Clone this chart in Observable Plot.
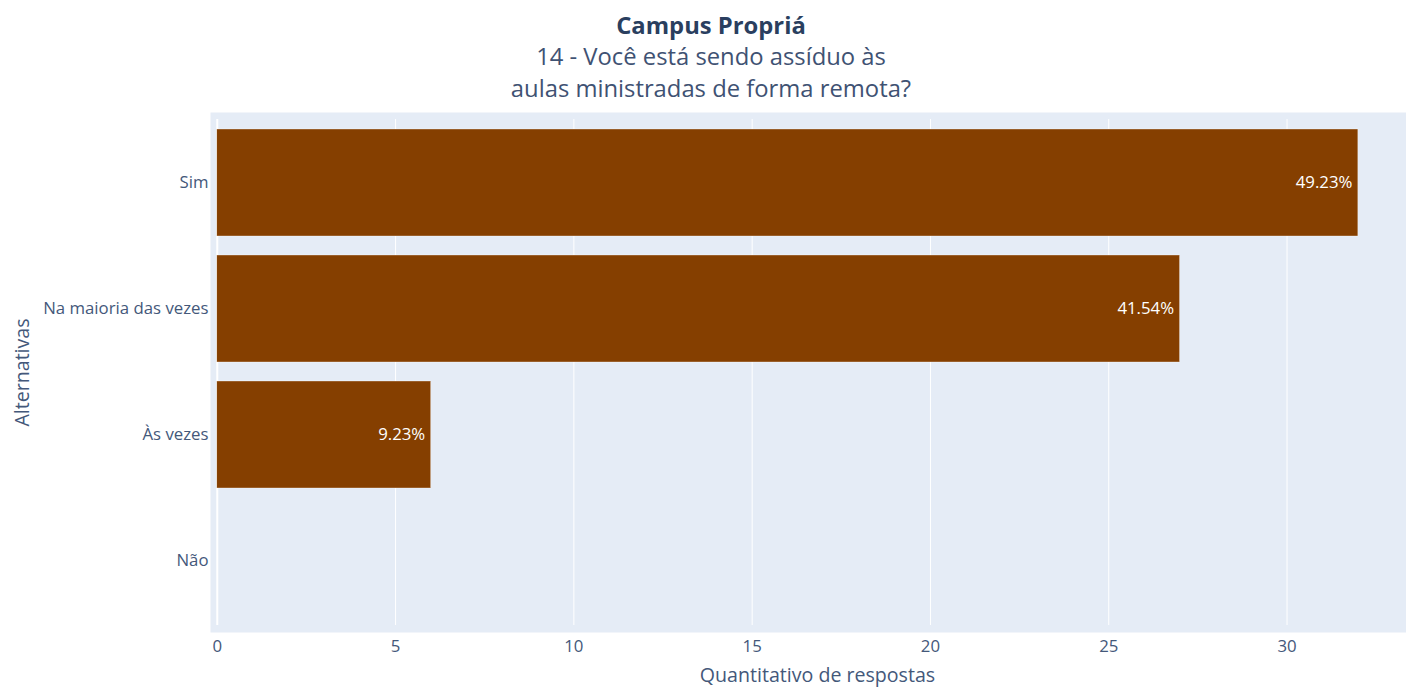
<!DOCTYPE html>
<html>
<head>
<meta charset="utf-8">
<script src="https://cdn.jsdelivr.net/npm/d3@7"></script>
<script src="https://cdn.jsdelivr.net/npm/@observablehq/plot@0.6"></script>
<style>
  html, body { margin: 0; padding: 0; background: #fff; }
  body { width: 1406px; height: 690px; position: relative; overflow: hidden; font-family: "Open Sans", sans-serif; }
  #chart { position: absolute; left: 0; top: 0; }
  .ttl { position: absolute; left: 0; width: 1422px; text-align: center; font-family: "Open Sans", sans-serif; line-height: 32px; white-space: nowrap; }
  #title { top: 9px; font-size: 23.8px; font-weight: 700; color: #2a3f5f; }
  #subtitle { top: 40px; font-size: 23.8px; font-weight: 400; color: #3f5273; }
</style>
</head>
<body>
<div id="chart"></div>
<div id="title" class="ttl"></div>
<div id="subtitle" class="ttl"></div>
<script>
const titleText = "Campus Propriá";
const subtitleLines = ["14 - Você está sendo assíduo às", "aulas ministradas de forma remota?"];
const categories = ["Sim", "Na maioria das vezes", "Às vezes", "Não"];
const counts = [32, 27, 6, 0];
const percentLabels = ["49.23%", "41.54%", "9.23%", ""];
const xTicks = [0, 5, 10, 15, 20, 25, 30];
const xTitle = "Quantitativo de respostas";
const yTitle = "Alternativas";

document.getElementById("title").textContent = titleText;
document.getElementById("subtitle").innerHTML = subtitleLines.join("<br>");

const data = categories.map((c, i) => ({cat: c, n: counts[i], label: percentLabels[i]}));
const tickColor = "#44587a";

const chart = Plot.plot({
  width: 1406,
  height: 690,
  marginTop: 112,
  marginBottom: 58,
  marginLeft: 210,
  marginRight: 0,
  style: {fontFamily: "Open Sans", background: "transparent", overflow: "visible"},
  x: {domain: [-0.19, 33.35], ticks: xTicks},
  y: {domain: categories, range: [112, 632], paddingInner: 0.15, paddingOuter: 0.134, align: 0.5},
  marks: [
    Plot.frame({fill: "#e5ecf6", stroke: null}),
    Plot.ruleX(xTicks.filter(d => d !== 0), {stroke: "white", strokeWidth: 1, insetTop: 7, insetBottom: 7}),
    Plot.ruleX([0], {stroke: "white", strokeWidth: 2, insetTop: 7, insetBottom: 7}),
    Plot.barX(data, {y: "cat", x: "n", fill: "#853f00", stroke: "#ffffff", strokeWidth: 0.5, strokeOpacity: 0.7}),
    Plot.text(data.filter(d => d.label), {y: "cat", x: "n", text: "label", textAnchor: "end", dx: -6, fill: "#ffffff", fontSize: 16.8}),
    Plot.axisX({ticks: xTicks, tickSize: 0, tickPadding: 8, fontSize: 16.8, color: tickColor, label: null}),
    Plot.axisY({tickSize: 0, tickPadding: 2, fontSize: 16.8, color: tickColor, label: null}),
    Plot.text([xTitle], {frameAnchor: "bottom", dx: 9, dy: 43, fontSize: 19.6, fill: tickColor, lineAnchor: "middle"}),
    Plot.text([yTitle], {frameAnchor: "left", dx: -188, rotate: -90, fontSize: 19.6, fill: tickColor, lineAnchor: "middle", textAnchor: "middle"})
  ]
});
document.getElementById("chart").appendChild(chart);
</script>
</body>
</html>
